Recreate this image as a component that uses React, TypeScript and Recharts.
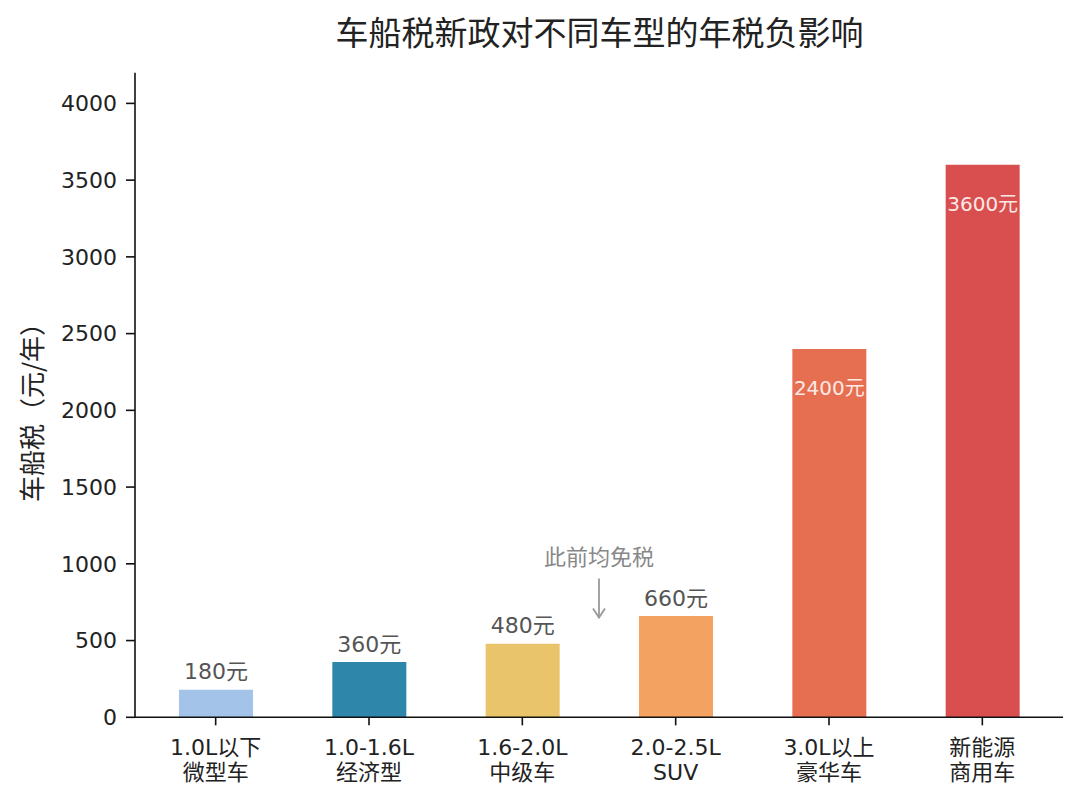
import React from "react";
import {
  BarChart,
  Bar,
  Cell,
  XAxis,
  YAxis,
  LabelList,
  ReferenceLine
} from "recharts";

const FONT = "'DejaVu Sans', 'Noto Sans CJK SC', sans-serif";

const categories = ["1.0L以下\n微型车", "1.0-1.6L\n经济型", "1.6-2.0L\n中级车", "2.0-2.5L\nSUV", "3.0L以上\n豪华车", "新能源\n商用车"];
const taxValues = [180, 360, 480, 660, 2400, 3600];
const barColors = ["#a3c4e8", "#2e86ab", "#e9c46a", "#f4a261", "#e76f51", "#d94f50"];
const yTicks = [0, 500, 1000, 1500, 2000, 2500, 3000, 3500, 4000];
const noteText = "此前均免税";
const noteArrow = [
  { x: 2.5, y: 905 },
  { x: 2.5, y: 650 }
];

const data = categories.map((name, i) => ({ name, value: taxValues[i] }));

function CategoryTick(props: any) {
  const { x, y, payload } = props;
  const lines = String(payload.value).split("\n");
  return (
    <text x={x} y={y} textAnchor="middle" fontSize={22} fill="#222" fontFamily={FONT}>
      {lines.map((l, i) => (
        <tspan key={i} x={x} dy={i === 0 ? 28 : 25}>
          {l}
        </tspan>
      ))}
    </text>
  );
}

function ValueLabel(props: any) {
  const { x, y, width, value, index } = props;
  const cx = x + width / 2;
  if (index >= 4) {
    return (
      <text x={cx} y={y + 39} textAnchor="middle" dominantBaseline="central" fontSize={20} fill="#fde9e6" fontFamily={FONT}>
        {value}元
      </text>
    );
  }
  return (
    <text x={cx} y={y - 18} textAnchor="middle" dominantBaseline="central" fontSize={22} fill="#555" fontFamily={FONT}>
      {value}元
    </text>
  );
}

function NoteArrow(props: any) {
  const { x1, y1, x2, y2 } = props;
  return (
    <g>
      <text x={x1} y={y1 - 21} textAnchor="middle" dominantBaseline="central" fontSize={22} fill="#888" fontFamily={FONT}>
        {noteText}
      </text>
      <line x1={x1} y1={y1} x2={x2} y2={y2} stroke="#999" strokeWidth={1.8} />
      <polyline points={`${x2 - 6},${y2 - 9} ${x2},${y2} ${x2 + 6},${y2 - 9}`} fill="none" stroke="#999" strokeWidth={1.8} />
    </g>
  );
}

export default function App() {
  return (
    <div style={{ position: "relative", width: 1072, height: 793, fontFamily: FONT, background: "#fff" }}>
      <div
        style={{
          position: "absolute",
          left: 291.5,
          top: 5,
          width: 600,
          textAlign: "center",
          fontSize: 33,
          lineHeight: "36px",
          color: "#222",
          fontFamily: "'Noto Sans CJK SC', sans-serif"
        }}
      >
        车船税新政对不同车型的年税负影响
      </div>
      <div
        style={{
          position: "absolute",
          left: 23,
          top: 398,
          transform: "translate(-50%, -50%) rotate(-90deg)",
          whiteSpace: "nowrap",
          fontSize: 26,
          lineHeight: "28px",
          color: "#222",
          fontFamily: "'Noto Sans CJK SC', sans-serif"
        }}
      >
        车船税（元/年）
      </div>
      <BarChart
        width={1072}
        height={793}
        data={data}
        margin={{ top: 64.7, right: 17, bottom: 23.7, left: 47 }}
      >
        <XAxis
          dataKey="name"
          height={60}
          interval={0}
          padding={{ left: 4, right: 4 }}
          tick={<CategoryTick />}
          tickSize={8}
          tickMargin={2}
          axisLine={{ stroke: "#111", strokeWidth: 1.6 }}
          tickLine={{ stroke: "#111", strokeWidth: 1.6 }}
        />
        <XAxis
          xAxisId="num"
          type="number"
          domain={[-0.5, 5.5]}
          padding={{ left: 4, right: 4 }}
          hide
        />
        <YAxis
          width={80}
          domain={[0, 4200]}
          ticks={yTicks}
          interval={0}
          tickSize={9}
          tickMargin={9}
          tick={{ fontSize: 22, fill: "#222", fontFamily: FONT }}
          axisLine={{ stroke: "#111", strokeWidth: 1.6 }}
          tickLine={{ stroke: "#111", strokeWidth: 1.6 }}
        />
        <Bar dataKey="value" barSize={74} isAnimationActive={false}>
          {data.map((_, i) => (
            <Cell key={i} fill={barColors[i]} />
          ))}
          <LabelList dataKey="value" content={<ValueLabel />} />
        </Bar>
        <ReferenceLine xAxisId="num" segment={noteArrow} shape={<NoteArrow />} />
      </BarChart>
    </div>
  );
}
